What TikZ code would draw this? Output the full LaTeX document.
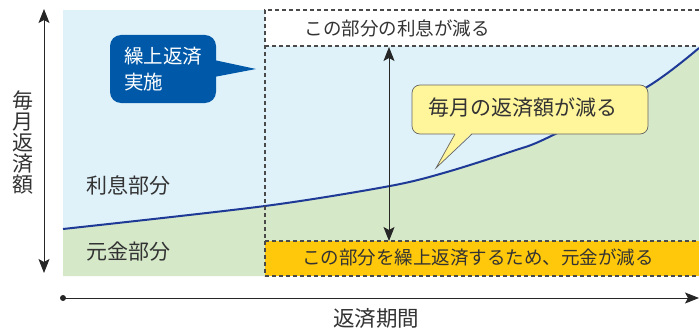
\documentclass[tikz,border=0pt]{standalone}
\usepackage{fontspec}
\setmainfont{Noto Sans CJK JP}
\usetikzlibrary{arrows.meta}
\definecolor{lblue}{HTML}{DFF2FA}
\definecolor{lgreen}{HTML}{D5E8C8}
\definecolor{curvecol}{HTML}{1E3A96}
\definecolor{orng}{HTML}{FFC80A}
\definecolor{cblue}{HTML}{0059A8}
\definecolor{cyell}{HTML}{FFF59B}
\definecolor{txt}{HTML}{333333}
\definecolor{dashcol}{HTML}{4A4A4A}
\newcommand{\fsz}[1]{\fontsize{#1}{#1}\selectfont}
\begin{document}
\begin{tikzpicture}[x=1pt,y=-1pt,
  lbl/.style={inner sep=0pt, text=txt},
  dashline/.style={draw=dashcol, line width=1.2pt, dash pattern=on 4pt off 3pt},
  arrowline/.style={draw=black!85, line width=0.9pt},
  tip/.tip={Stealth[length=14pt,width=11pt,inset=3pt]}
]
\useasboundingbox (0,0) rectangle (699,329);
% areas
\fill[lblue] (63,10) rectangle (699,276);
\fill[lgreen] plot[smooth,tension=0.5] coordinates {(63,229) (265,206) (390,186) (447,172) (513,151) (547,138) (647,87) (699,48)} -- (699,276) -- (63,276) -- cycle;
\fill[white] (265,10) rectangle (699,46);
\fill[orng] (265,241) rectangle (699,276);
\draw[curvecol, line width=2pt] plot[smooth,tension=0.5] coordinates {(63,229) (265,206) (390,186) (447,172) (513,151) (547,138) (647,87) (699,48)};
% dashed lines
\draw[dashline] (699,10) -- (265,10) -- (265,276);
\draw[dashline] (265,46) -- (699,46);
\draw[dashline] (265,241) -- (699,241);
\draw[dashline] (265,276) -- (699,276);
% texts in boxes
\node[lbl, font=\fsz{18.5}] (t1) at (397,28) {この部分の利息が減る};
\node[lbl, font=\fsz{18.5}] (t2) at (478,258) {この部分を繰上返済するため、元金が減る};
\node[lbl, font=\fsz{21}] (t3) at (128,185) {利息部分};
\node[lbl, font=\fsz{21}] (t4) at (128,252) {元金部分};
% vertical arrow
\coordinate (atop) at (389,47);
\coordinate (abot) at (389,241);
\draw[arrowline, tip-tip] (atop) -- (abot);
% blue callout
\node[fill=cblue, rounded corners=11pt, minimum width=106pt, minimum height=68pt, inner sep=0pt] (c1) at (163,69) {};
\fill[cblue] (214,60) -- (256,69) -- (214,77) -- cycle;
\node[inner sep=0pt, text=white, align=left, font=\fontsize{19.5}{26}\selectfont] (c1t) at (163,69) {繰上返済\\実施};
% yellow callout
\node[draw=black!60, line width=0.7pt, fill=cyell, rounded corners=8pt, minimum width=236pt, minimum height=49pt, inner sep=0pt] (c2) at (530,109.5) {};
\fill[cyell] (455,133) -- (436,168) -- (472,133) -- cycle;
\draw[black!60, line width=0.7pt] (455,134) -- (436,168) -- (472,134);
\node[lbl, font=\fsz{21}] (c2t) at (523,108) {毎月の返済額が減る};
% left axis
\coordinate (ytop) at (44,9);
\coordinate (ybot) at (44,273);
\draw[arrowline, tip-tip] (ytop) -- (ybot);
\node[lbl, align=center, font=\fontsize{21}{21}\selectfont] (ylab) at (23,143) {毎\\月\\返\\済\\額};
% bottom axis
\coordinate (xorg) at (63,298);
\coordinate (xend) at (699,298);
\fill[black!85] (xorg) circle (3pt);
\draw[arrowline, -tip] (xorg) -- (xend);
\node[lbl, font=\fsz{21.5}] (xlab) at (376,318) {返済期間};
\end{tikzpicture}
\end{document}
